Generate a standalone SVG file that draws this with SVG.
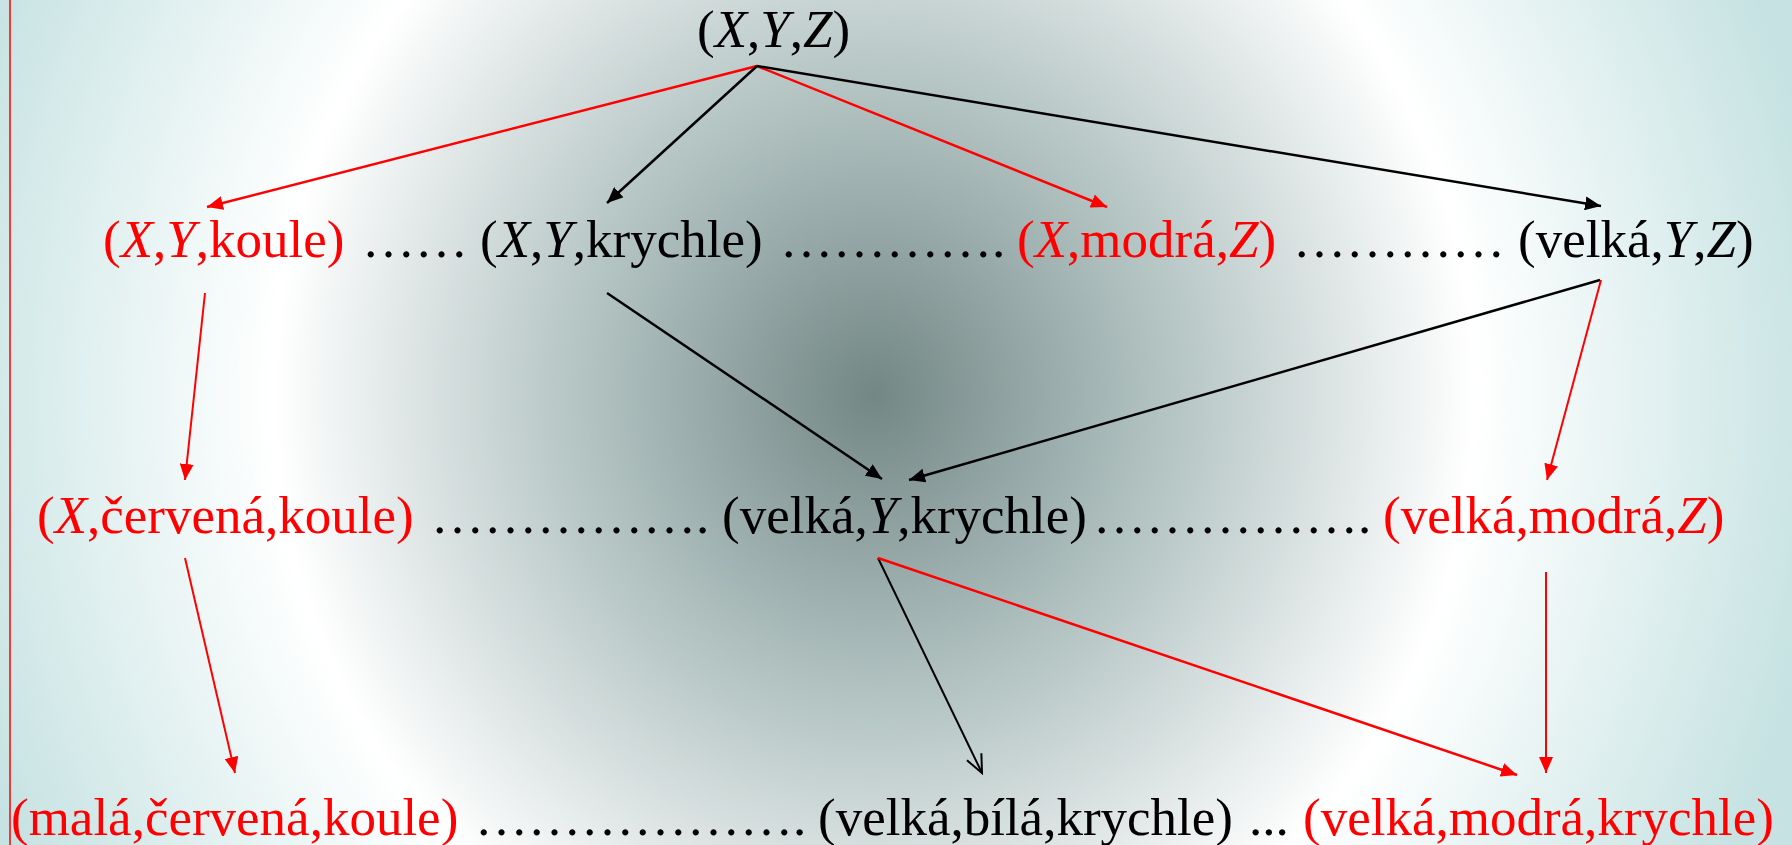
<svg xmlns="http://www.w3.org/2000/svg" width="1792" height="845" viewBox="0 0 1792 845">
<style>
text{font-family:"Liberation Serif","Times New Roman",serif;font-size:53px;}
.r{fill:#ff0000;}
.k{fill:#000000;}
.i{font-style:italic;}
.lr{stroke:#ff0000;stroke-width:2.5;fill:none;}
.lk{stroke:#000000;stroke-width:2.5;fill:none;}
</style>
<defs>
<radialGradient id="bg" gradientUnits="userSpaceOnUse" cx="874" cy="394" r="960" gradientTransform="translate(874 394) scale(1 1.05) translate(-874 -394)">
<stop offset="0" stop-color="#738785"/>
<stop offset="0.3" stop-color="#b2c3c2"/>
<stop offset="0.625" stop-color="#ffffff"/>
<stop offset="1" stop-color="#c6e2e2"/>
</radialGradient>
<marker id="ar" markerUnits="userSpaceOnUse" markerWidth="16" markerHeight="14" refX="16" refY="7" orient="auto"><path d="M0,0 L16,7 L0,14 z" fill="#ff0000"/></marker>
<marker id="ak" markerUnits="userSpaceOnUse" markerWidth="16" markerHeight="14" refX="16" refY="7" orient="auto"><path d="M0,0 L16,7 L0,14 z" fill="#000000"/></marker>
<marker id="ao" markerUnits="userSpaceOnUse" markerWidth="20" markerHeight="18" refX="18" refY="9" orient="auto" overflow="visible"><path d="M0,1 L18,9 L0,17" fill="none" stroke="#000000" stroke-width="2"/></marker>
</defs>
<rect x="0" y="0" width="1792" height="845" fill="url(#bg)"/>
<line x1="10" y1="0" x2="10" y2="845" stroke="#ff0000" stroke-width="1.5"/>

<g id="connectors">
<line class="lr" x1="757" y1="66" x2="207" y2="207" marker-end="url(#ar)"/>
<line class="lk" x1="757" y1="66" x2="607" y2="203" marker-end="url(#ak)"/>
<line class="lr" x1="757" y1="66" x2="1107" y2="207" marker-end="url(#ar)"/>
<line class="lk" x1="757" y1="66" x2="1601" y2="206" marker-end="url(#ak)"/>
<line class="lr" x1="205" y1="293" x2="185" y2="480" marker-end="url(#ar)" style="stroke-width:2"/>
<line class="lk" x1="607" y1="293" x2="882" y2="479" marker-end="url(#ak)"/>
<line class="lk" x1="1600" y1="280" x2="909" y2="480" marker-end="url(#ak)"/>
<line class="lr" x1="1601" y1="280" x2="1547" y2="480" marker-end="url(#ar)" style="stroke-width:2"/>
<line class="lr" x1="185" y1="558" x2="235" y2="773" marker-end="url(#ar)" style="stroke-width:2"/>
<line class="lk" x1="878" y1="558" x2="982" y2="773" marker-end="url(#ao)" style="stroke-width:2"/>
<line class="lr" x1="878" y1="558" x2="1517" y2="775" marker-end="url(#ar)"/>
<line class="lr" x1="1546" y1="572" x2="1546" y2="773" marker-end="url(#ar)" style="stroke-width:2"/>
</g>

<g id="n-xyz"><text x="697" y="47" class="k">(<tspan class="i">X</tspan>,<tspan class="i">Y</tspan>,<tspan class="i">Z</tspan>)</text></g>

<g id="n-xy-koule"><text x="103" y="257" class="r">(<tspan class="i">X</tspan>,<tspan class="i">Y</tspan>,koule)</text></g>
<text x="362" y="257" class="k">&#8230;&#8230;</text>
<g id="n-xy-krychle"><text x="480" y="257" class="k">(<tspan class="i">X</tspan>,<tspan class="i">Y</tspan>,krychle)</text></g>
<text x="780" y="257" class="k">&#8230;&#8230;&#8230;&#8230;.</text>
<g id="n-x-modra-z"><text x="1017" y="257" class="r">(<tspan class="i">X</tspan>,modrá,<tspan class="i">Z</tspan>)</text></g>
<text x="1293" y="257" class="k">&#8230;&#8230;&#8230;&#8230;</text>
<g id="n-velka-y-z"><text x="1518" y="257" class="k">(velká,<tspan class="i">Y</tspan>,<tspan class="i">Z</tspan>)</text></g>

<g id="n-x-cervena-koule"><text x="37" y="533" class="r">(<tspan class="i">X</tspan>,červená,koule)</text></g>
<text x="431" y="533" class="k">&#8230;&#8230;&#8230;&#8230;&#8230;.</text>
<g id="n-velka-y-krychle"><text x="722" y="533" class="k">(velká,<tspan class="i">Y</tspan>,krychle)</text></g>
<text x="1093" y="533" class="k">&#8230;&#8230;&#8230;&#8230;&#8230;.</text>
<g id="n-velka-modra-z"><text x="1383" y="533" class="r">(velká,modrá,<tspan class="i">Z</tspan>)</text></g>

<g id="n-mala-cervena-koule"><text x="11" y="835" class="r">(malá,červená,koule)</text></g>
<text x="475" y="835" class="k">&#8230;&#8230;&#8230;&#8230;&#8230;&#8230;.</text>
<g id="n-velka-bila-krychle"><text x="818" y="835" class="k">(velká,bílá,krychle)</text></g>
<text x="1249" y="835" class="k">...</text>
<g id="n-velka-modra-krychle"><text x="1303" y="835" class="r">(velká,modrá,krychle)</text></g>
</svg>
